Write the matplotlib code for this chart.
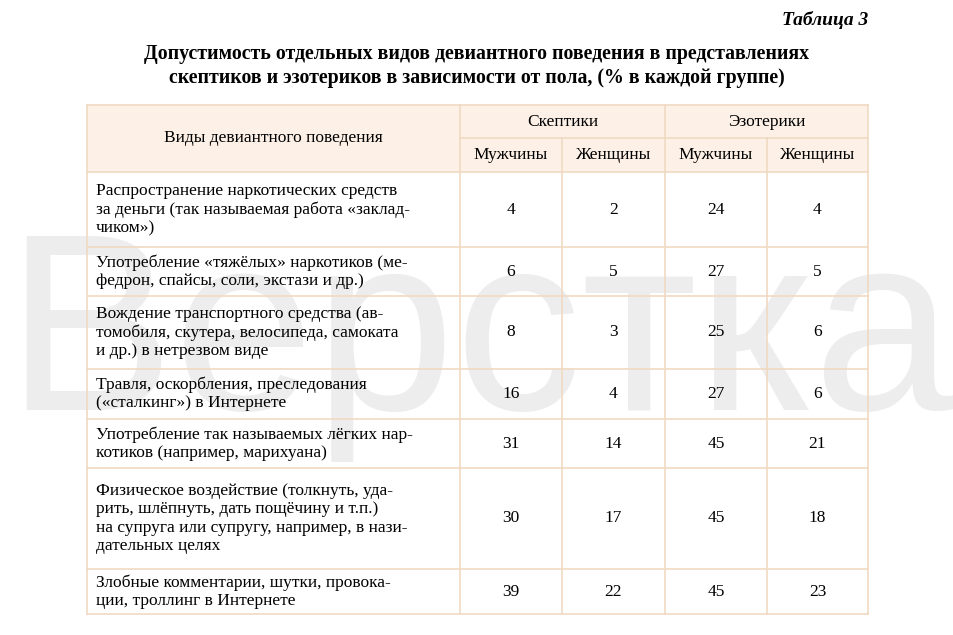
import matplotlib.pyplot as plt

plt.rcParams['font.family'] = ['Liberation Serif', 'DejaVu Serif']

groups = ['Скептики', 'Эзотерики']
genders = ['Мужчины', 'Женщины', 'Мужчины', 'Женщины']
behaviours = [
    'Распространение наркотических средств\nза деньги (так называемая работа «заклад-\nчиком»)',
    'Употребление «тяжёлых» наркотиков (ме-\nфедрон, спайсы, соли, экстази и др.)',
    'Вождение транспортного средства (ав-\nтомобиля, скутера, велосипеда, самоката\nи др.) в нетрезвом виде',
    'Травля, оскорбления, преследования\n(«сталкинг») в Интернете',
    'Употребление так называемых лёгких нар-\nкотиков (например, марихуана)',
    'Физическое воздействие (толкнуть, уда-\nрить, шлёпнуть, дать пощёчину и т.п.)\nна супруга или супругу, например, в нази-\nдательных целях',
    'Злобные комментарии, шутки, провока-\nции, троллинг в Интернете',
]
skept_m = [4, 6, 8, 16, 31, 30, 39]
skept_f = [2, 5, 3, 4, 14, 17, 22]
ezo_m = [24, 27, 25, 27, 45, 45, 45]
ezo_f = [4, 5, 6, 6, 21, 18, 23]

fig = plt.figure(figsize=(9.54, 6.35), dpi=100)
ax = fig.add_axes([0, 0, 1, 1])
ax.set_xlim(0, 954)
ax.set_ylim(635, 0)
ax.axis('off')

border = '#f0d9c2'
head_fill = '#fdf1e7'
cols = [87, 460, 562, 665, 767, 868]
rows = [172, 247, 296, 369, 419, 468, 569, 614]
top, mid = 105, 138

ax.add_patch(plt.Rectangle((cols[0], top), cols[-1] - cols[0], rows[0] - top,
                           facecolor=head_fill, edgecolor='none', zorder=0))

lw = 1.2
for y in [top] + rows:
    ax.plot([cols[0], cols[-1]], [y, y], color=border, lw=lw, zorder=1)
ax.plot([cols[1], cols[-1]], [mid, mid], color=border, lw=lw, zorder=1)
for i, x in enumerate(cols):
    y0 = mid if i in (2, 4) else top
    ax.plot([x, x], [y0, rows[-1]], color=border, lw=lw, zorder=1)

# watermark
ax.text(480, 345, 'Верстка', family='Liberation Sans', fontsize=182, color='#ededed',
        ha='center', va='center', zorder=0.5)

fs = 12.5
ax.text(868, 20, 'Таблица 3', fontsize=14, weight='bold', style='italic', ha='right', va='center', zorder=3)
ax.text(477, 66, 'Допустимость отдельных видов девиантного поведения в представлениях\n'
        'скептиков и эзотериков в зависимости от пола, (% в каждой группе)',
        fontsize=14.3, weight='bold', ha='center', va='center', linespacing=1.2, zorder=3)

ax.text((cols[0] + cols[1]) / 2, (top + rows[0]) / 2, 'Виды девиантного поведения',
        fontsize=fs, ha='center', va='center', zorder=3)
for g, name in enumerate(groups):
    ax.text((cols[1 + 2 * g] + cols[3 + 2 * g]) / 2, (top + mid) / 2, name,
            fontsize=fs, ha='center', va='center', zorder=3)
for j, name in enumerate(genders):
    ax.text((cols[1 + j] + cols[2 + j]) / 2, (mid + rows[0]) / 2, name,
            fontsize=fs, ha='center', va='center', zorder=3)

for i, label in enumerate(behaviours):
    yc = (rows[i] + rows[i + 1]) / 2
    ax.text(cols[0] + 9, yc, label, fontsize=fs, ha='left', va='center', linespacing=1.2, zorder=3)
    for j, vals in enumerate([skept_m, skept_f, ezo_m, ezo_f]):
        ax.text((cols[1 + j] + cols[2 + j]) / 2, yc, str(vals[i]),
                fontsize=fs, ha='center', va='center', zorder=3)

fig.savefig('out.png', dpi=100, facecolor='white')
